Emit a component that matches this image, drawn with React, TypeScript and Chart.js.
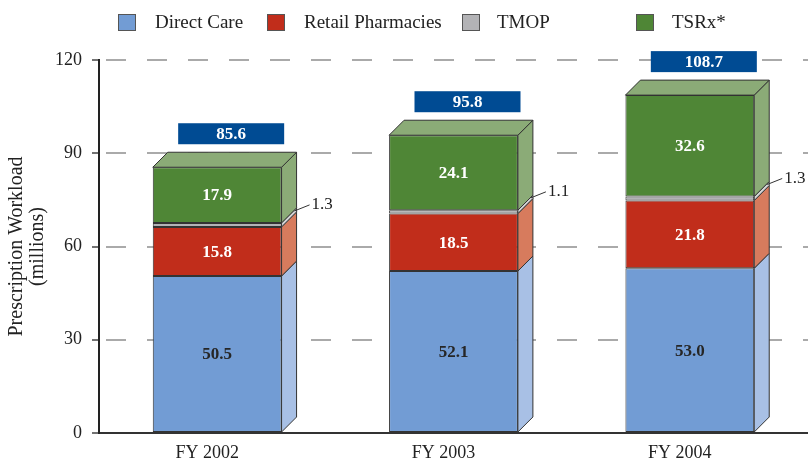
import React, { useEffect, useRef } from "react";
import { Chart, registerables } from "chart.js";

Chart.register(...registerables);

const categories = ["FY 2002", "FY 2003", "FY 2004"];
const seriesNames = ["Direct Care", "Retail Pharmacies", "TMOP", "TSRx*"];
const directCare = [50.5, 52.1, 53.0];
const retail = [15.8, 18.5, 21.8];
const tmop = [1.3, 1.1, 1.3];
const tsrx = [17.9, 24.1, 32.6];
const totals = [85.6, 95.8, 108.7];
const yTicks = [0, 30, 60, 90, 120];

const frontColors = ["#729cd4", "#c12d1b", "#b3b3b6", "#4f8636"];
const sideColors = ["#a8c0e5", "#d77b5d", "#d4d4d6", "#8bab77"];
const labelColors = ["#262626", "#ffffff", "#ffffff", "#ffffff"];
const SERIF = "'Liberation Serif', 'DejaVu Serif', serif";
const DX = 15;
const DY = 15;

const legendBoxX = [118, 267, 462, 636];
const legendTextX = [155, 304, 497, 672];

const threeDPlugin = {
  id: "threeD",
  afterDatasetsDraw(chart: any) {
    const ctx = chart.ctx;
    const n = chart.data.datasets.length;
    ctx.save();
    ctx.lineWidth = 1;
    ctx.strokeStyle = "#333";
    ctx.lineJoin = "miter";
    for (let i = 0; i < n; i++) {
      const meta = chart.getDatasetMeta(i);
      meta.data.forEach((bar: any) => {
        const xR = bar.x + bar.width / 2;
        const yT = bar.y;
        const yB = bar.base;
        ctx.beginPath();
        ctx.moveTo(xR, yT);
        ctx.lineTo(xR + DX, yT - DY);
        ctx.lineTo(xR + DX, yB - DY);
        ctx.lineTo(xR, yB);
        ctx.closePath();
        ctx.fillStyle = sideColors[i];
        ctx.fill();
        ctx.stroke();
        if (i === n - 1) {
          const xL = bar.x - bar.width / 2;
          ctx.beginPath();
          ctx.moveTo(xL, yT);
          ctx.lineTo(xL + DX, yT - DY);
          ctx.lineTo(xR + DX, yT - DY);
          ctx.lineTo(xR, yT);
          ctx.closePath();
          ctx.fillStyle = sideColors[i];
          ctx.fill();
          ctx.stroke();
        }
      });
    }
    // value labels
    ctx.textAlign = "center";
    ctx.textBaseline = "middle";
    for (let i = 0; i < n; i++) {
      const meta = chart.getDatasetMeta(i);
      const vals = chart.data.datasets[i].data;
      meta.data.forEach((bar: any, j: number) => {
        const mid = (bar.y + bar.base) / 2;
        const txt = Number(vals[j]).toFixed(1);
        if (i === 2) {
          const xR = bar.x + bar.width / 2;
          const sx = xR + DX - 2;
          const sy = mid - DY + 1;
          ctx.beginPath();
          ctx.moveTo(sx, sy);
          ctx.lineTo(sx + 15, sy - 6);
          ctx.strokeStyle = "#333";
          ctx.lineWidth = 1;
          ctx.stroke();
          ctx.font = `17px ${SERIF}`;
          ctx.fillStyle = "#222";
          ctx.textAlign = "left";
          ctx.fillText(txt, sx + 17, sy - 6);
          ctx.textAlign = "center";
        } else {
          ctx.font = `bold 17px ${SERIF}`;
          ctx.fillStyle = labelColors[i];
          ctx.fillText(txt, bar.x, mid + 1);
        }
      });
    }
    // totals
    const topMeta = chart.getDatasetMeta(n - 1);
    topMeta.data.forEach((bar: any, j: number) => {
      const cx = bar.x + 14;
      const w = 106;
      const h = 21;
      const bottom = bar.y - 23;
      ctx.fillStyle = "#004b93";
      ctx.fillRect(cx - w / 2, bottom - h, w, h);
      ctx.fillStyle = "#ffffff";
      ctx.font = `bold 17px ${SERIF}`;
      ctx.textAlign = "center";
      ctx.fillText(totals[j].toFixed(1), cx, bottom - h / 2 + 1);
    });
    // legend
    seriesNames.forEach((name, i) => {
      ctx.fillStyle = frontColors[i];
      ctx.fillRect(legendBoxX[i], 14, 18, 17);
      ctx.strokeStyle = "#555";
      ctx.lineWidth = 1;
      ctx.strokeRect(legendBoxX[i] + 0.5, 14.5, 17, 16);
      ctx.fillStyle = "#222";
      ctx.font = `19px ${SERIF}`;
      ctx.textAlign = "left";
      ctx.fillText(name, legendTextX[i], 23);
    });
    ctx.restore();
  },
};

export default function App() {
  const ref = useRef<HTMLCanvasElement | null>(null);
  useEffect(() => {
    document.body.style.margin = "0";
    const canvas = ref.current;
    if (!canvas) return;
    const seriesData = [directCare, retail, tmop, tsrx];
    const chart = new Chart(canvas, {
      type: "bar",
      data: {
        labels: categories,
        datasets: seriesNames.map((name, i) => ({
          label: name,
          data: seriesData[i],
          backgroundColor: frontColors[i],
          borderColor: "#333",
          borderWidth: 1,
          borderSkipped: false,
          barPercentage: 0.545,
          categoryPercentage: 1,
        })),
      },
      options: {
        responsive: false,
        animation: false,
        layout: { padding: { top: 60, left: 0, right: 0, bottom: 0 } },
        plugins: { legend: { display: false }, tooltip: { enabled: false } },
        scales: {
          x: {
            stacked: true,
            grid: { display: false, drawTicks: false },
            border: { display: true, color: "#333", width: 2, z: 1 },
            ticks: {
              font: { family: SERIF, size: 18 },
              color: "#222",
              labelOffset: -10,
              padding: 9,
            },
            afterFit: (s: any) => {
              s.height = 29;
            },
          },
          y: {
            stacked: true,
            min: 0,
            max: 120,
            afterBuildTicks: (s: any) => {
              s.ticks = yTicks.map((v) => ({ value: v }));
            },
            ticks: {
              font: { family: SERIF, size: 18 },
              color: "#222",
              padding: 10,
            },
            grid: {
              color: (c: any) => (c.tick && c.tick.value === 0 ? "rgba(0,0,0,0)" : "#aaaaaa"),
              lineWidth: 2,
              tickColor: "#444",
              tickLength: 7,
              tickWidth: 1.5,
              tickBorderDash: [],
            },
            border: { display: true, color: "#222", width: 2, dash: [20, 21], dashOffset: 35, z: 1 },
            title: {
              display: true,
              text: ["Prescription Workload", "(millions)"],
              font: { family: SERIF, size: 20, lineHeight: 1.05 },
              color: "#222",
              padding: { top: 6, bottom: 4 },
            },
            afterFit: (s: any) => {
              s.width = 99;
            },
          },
        },
      },
      plugins: [threeDPlugin],
    } as any);
    return () => chart.destroy();
  }, []);
  return <canvas ref={ref} width={808} height={462} style={{ display: "block" }} />;
}
